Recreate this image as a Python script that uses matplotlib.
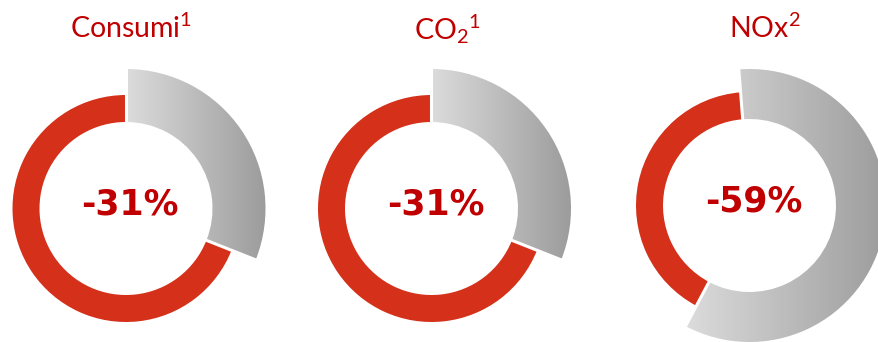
import matplotlib
matplotlib.use("Agg")
import matplotlib.pyplot as plt
import numpy as np
from matplotlib.colors import LinearSegmentedColormap

# Reductions achieved (percent) for each indicator
titles = [r"Consumi$^{1}$", r"CO$_{2}$$^{1}$", r"NOx$^{2}$"]
reductions = [31, 31, 59]
labels = ["-31%", "-31%", "-59%"]

plt.rcParams["mathtext.fontset"] = "custom"
plt.rcParams["mathtext.rm"] = "Lato"
plt.rcParams["mathtext.it"] = "Lato"

W, H = 879, 342
fig = plt.figure(figsize=(W / 100, H / 100), dpi=100)
ax = fig.add_axes([0, 0, 1, 1])

RED = "#d4301a"
TEXT_RED = "#c00000"
gray_cmap = LinearSegmentedColormap.from_list("g", ["#dcdcdc", "#9c9c9c"])

# layout of the three donuts (pixel space, y up)
centers = [(126, 133.5), (431.5, 133.5), (749.5, 136.5)]
gray_r = [139.5, 139.5, 136.5]
start = [90, 90, 94.5]
red_r = 113.5
inner_r = 86.5
title_x = [131, 447, 765]
title_y = 316

for i, red in enumerate(reductions):
    cx, cy = centers[i]
    vals = [red, 100 - red]
    # outer (reduction) ring with gradient fill
    g, _ = ax.pie(vals, radius=gray_r[i], center=(cx, cy), startangle=start[i],
                  counterclock=False, colors=["none", "none"],
                  wedgeprops=dict(width=gray_r[i] - inner_r, linewidth=0))
    g[1].set_visible(False)
    wedge = g[0]
    ext = wedge.get_path().get_extents()
    grad = np.linspace(0, 1, 256).reshape(1, -1)
    im = ax.imshow(grad, extent=(ext.x0, ext.x1, ext.y0, ext.y1), cmap=gray_cmap,
                   aspect="auto", origin="lower", zorder=1)
    im.set_clip_path(wedge)
    # remaining share ring
    r, _ = ax.pie(vals, radius=red_r, center=(cx, cy), startangle=start[i],
                  counterclock=False, colors=["none", RED],
                  wedgeprops=dict(width=red_r - inner_r, linewidth=0))
    r[0].set_visible(False)
    r[1].set_zorder(2)
    # white separating lines at both ends of the reduction arc
    for ang in (start[i], start[i] - red / 100 * 360):
        a = np.deg2rad(ang)
        ax.plot([cx + (inner_r - 2) * np.cos(a), cx + (gray_r[i] + 2) * np.cos(a)],
                [cy + (inner_r - 2) * np.sin(a), cy + (gray_r[i] + 2) * np.sin(a)],
                color="white", lw=2.2, zorder=3, solid_capstyle="butt")

    ax.text(cx + 4, cy + 4, labels[i], ha="center", va="center", fontsize=25,
            fontweight="bold", color=TEXT_RED, family="DejaVu Sans", zorder=4)
    ax.text(title_x[i], title_y, titles[i], ha="center", va="center_baseline",
            fontsize=20.5, color=TEXT_RED, family="Lato", zorder=4)

ax.set_xlim(0, W)
ax.set_ylim(0, H)
ax.set_aspect("auto")
ax.axis("off")
fig.savefig("out.png", dpi=100, facecolor="white")
